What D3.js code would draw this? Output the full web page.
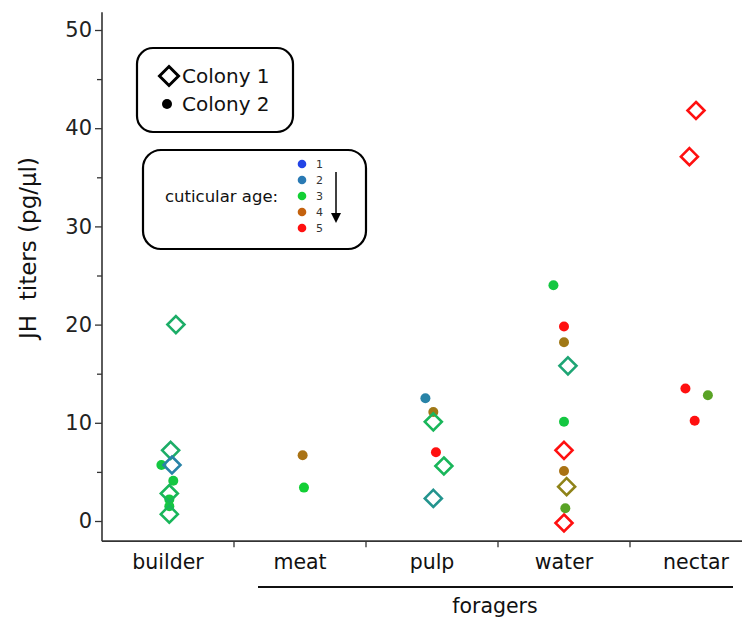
<!DOCTYPE html>
<html><head><meta charset="utf-8">
<script src="https://cdn.jsdelivr.net/npm/d3@7"></script>
<style>body{margin:0;background:#fff}svg{display:block}text{font-family:"DejaVu Sans",sans-serif}</style>
</head><body>
<svg id="c" width="748" height="617"></svg>
<script>
const categories = ["builder","meat","pulp","water","nectar"];
const yTicks = [0,10,20,30,40,50];
const ageLevels = [1,2,3,4,5];
const ageColors = ["#2244e6","#2a7ab4","#12cf34","#c4620e","#ff1010"];
// points: category, colony, value, cuticular age (estimated from hue), jitter (fraction of band)
const ptCategory = ["builder","builder","builder","builder","builder","builder","builder","builder","builder",
  "meat","meat",
  "pulp","pulp","pulp","pulp","pulp","pulp",
  "water","water","water","water","water","water","water","water","water","water",
  "nectar","nectar","nectar","nectar","nectar"];
const ptColony = [1,1,1,1,1,2,2,2,2,
  2,2,
  2,2,1,2,1,1,
  2,2,2,1,2,1,2,1,2,1,
  1,1,2,2,2];
const ptValue = [20.0,7.2,5.7,2.8,0.7,5.7,4.1,2.2,1.5,
  6.7,3.4,
  12.5,11.1,10.1,7.0,5.6,2.3,
  24.0,19.8,18.2,15.8,10.1,7.2,5.1,3.5,1.3,-0.2,
  41.8,37.1,13.5,12.8,10.2];
const ptAge = [2.6,2.6,2.1,2.7,2.7,2.9,2.9,2.9,2.9,
  3.85,3.0,
  2.1,3.8,2.7,5,2.7,2.3,
  2.9,5,3.8,2.5,2.9,5,3.85,3.7,3.4,5,
  5,5,5,3.4,5];
const ptJitter = [0.06,0.02,0.03,0.01,0.01,-0.05,0.04,0.01,0.01,
  0.02,0.03,
  -0.05,0.01,0.01,0.03,0.09,0.01,
  -0.08,0.0,0.0,0.03,0.0,0.0,0.0,0.02,0.01,0.0,
  0.0,-0.05,-0.08,0.09,-0.01];

const svg = d3.select("#c");
const x = d3.scaleBand().domain(categories).range([102, 762]).padding(0);
const y = d3.scaleLinear().domain([0,50]).range([521, 30]);
const color = d3.scaleLinear().domain(ageLevels).range(ageColors).interpolate(d3.interpolateRgb);
const axisColor = "#333";

// y axis
const yAxisG = svg.append("g").attr("transform","translate(102,0)")
  .call(d3.axisLeft(y).tickValues(yTicks).tickSize(7).tickPadding(3).tickFormat(d3.format("d")));
svg.append("g").attr("transform","translate(102,0)")
  .call(d3.axisLeft(y).tickValues([5,15,25,35,45]).tickSize(5).tickFormat(""))
  .call(g=>g.select(".domain").remove());
yAxisG.select(".domain").attr("d",`M0,${y(51.8)}V${y(-2.05)}`);
svg.selectAll(".tick line").attr("stroke",axisColor).attr("stroke-width",1.3);
yAxisG.select(".domain").attr("stroke",axisColor).attr("stroke-width",1.6);
yAxisG.selectAll("text").attr("font-size",21).attr("fill","#222").attr("font-family","DejaVu Sans");

// x axis
const xAxisY = y(-2.05);
const xg = svg.append("g").attr("transform",`translate(0,${xAxisY})`);
xg.append("line").attr("x1",102).attr("x2",742).attr("stroke",axisColor).attr("stroke-width",1.6);
xg.selectAll("line.t").data(categories.slice(1)).join("line").attr("class","t")
  .attr("x1",d=>x(d)).attr("x2",d=>x(d)).attr("y1",0).attr("y2",6)
  .attr("stroke",axisColor).attr("stroke-width",1.3);
xg.selectAll("text").data(categories).join("text")
  .attr("x",d=>x(d)+x.bandwidth()/2).attr("y",28)
  .attr("text-anchor","middle").attr("font-size",20.5).attr("fill","#111").text(d=>d);

// foragers bracket
svg.append("line").attr("x1",x("meat")+24).attr("x2",733).attr("y1",587).attr("y2",587)
  .attr("stroke","#111").attr("stroke-width",2);
svg.append("text").attr("x",495).attr("y",613).attr("text-anchor","middle")
  .attr("font-size",20.5).attr("fill","#111").text("foragers");

// y title
svg.append("text").attr("transform","translate(36,248) rotate(-90)")
  .attr("text-anchor","middle").attr("font-size",23).attr("fill","#111")
  .attr("xml:space","preserve").text("JH  titers (pg/µl)");

// points
const pts = ptValue.map((v,i)=>({cat:ptCategory[i],col:ptColony[i],v,age:ptAge[i],j:ptJitter[i]}));
const px = d=>x(d.cat)+x.bandwidth()/2+d.j*x.bandwidth();
const diamond = s=>`M0,${-s}L${s},0L0,${s}L${-s},0Z`;
const g = svg.append("g");
pts.filter(d=>d.col===2).forEach(d=>{
  g.append("circle").attr("cx",px(d)).attr("cy",y(d.v)).attr("r",5).attr("fill",color(d.age));
});
pts.filter(d=>d.col===1).forEach(d=>{
  g.append("path").attr("d",diamond(8.5)).attr("transform",`translate(${px(d)},${y(d.v)})`)
    .attr("fill","none").attr("stroke",color(d.age)).attr("stroke-width",2.6);
});

// legend 1
svg.append("rect").attr("x",137).attr("y",48).attr("width",156).attr("height",84).attr("rx",16)
  .attr("fill","#fff").attr("stroke","#000").attr("stroke-width",2.2);
svg.append("path").attr("d",diamond(9.5)).attr("transform","translate(169,76)")
  .attr("fill","none").attr("stroke","#000").attr("stroke-width",3);
svg.append("text").attr("x",182).attr("y",83).attr("font-size",20).attr("fill","#111").text("Colony 1");
svg.append("circle").attr("cx",167).attr("cy",104).attr("r",5).attr("fill","#000");
svg.append("text").attr("x",182).attr("y",111).attr("font-size",20).attr("fill","#111").text("Colony 2");

// legend 2
svg.append("rect").attr("x",143).attr("y",150).attr("width",223).attr("height",99).attr("rx",18)
  .attr("fill","#fff").attr("stroke","#000").attr("stroke-width",2.2);
svg.append("text").attr("x",165).attr("y",202).attr("font-size",16.5).attr("fill","#111").text("cuticular age:");
const ly = d3.scalePoint().domain(ageLevels).range([164,228]);
ageLevels.forEach((a,i)=>{
  svg.append("circle").attr("cx",302).attr("cy",ly(a)).attr("r",4.3).attr("fill",ageColors[i]);
  svg.append("text").attr("x",316).attr("y",ly(a)+4).attr("font-size",11).attr("fill","#333").text(a);
});
svg.append("line").attr("x1",336).attr("x2",336).attr("y1",172).attr("y2",214).attr("stroke","#000").attr("stroke-width",1.5);
svg.append("path").attr("d","M331,213L341,213L336,223Z").attr("fill","#000");
</script>
</body></html>
